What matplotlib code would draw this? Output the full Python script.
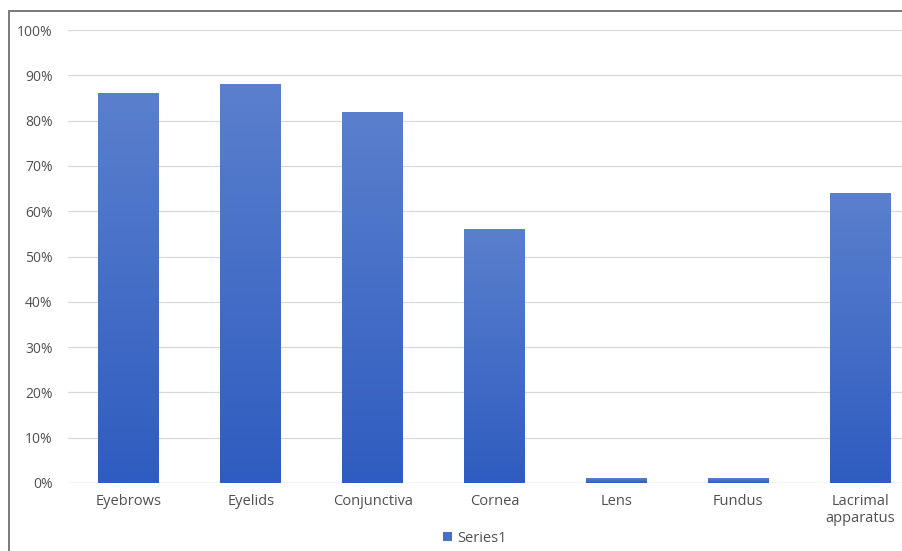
import matplotlib
matplotlib.use("Agg")
import matplotlib.pyplot as plt
import numpy as np
from matplotlib.patches import Rectangle
from matplotlib.colors import LinearSegmentedColormap
from matplotlib.ticker import PercentFormatter

categories = ["Eyebrows", "Eyelids", "Conjunctiva", "Cornea", "Lens", "Fundus", "Lacrimal\napparatus"]
values = [86, 88, 82, 56, 1, 1, 64]
yticks = [0, 10, 20, 30, 40, 50, 60, 70, 80, 90, 100]
series_name = "Series1"

W, H = 902, 551
fig = plt.figure(figsize=(W / 100, H / 100), dpi=100)
plt.rcParams["font.family"] = ["Open Sans", "DejaVu Sans"]

text_color = "#505050"

# plot area (extends slightly past the right edge of the canvas)
left, right = 68 / W, 921 / W
bottom, top = (H - 483) / H, (H - 30) / H
ax = fig.add_axes([left, bottom, right - left, top - bottom])

x = np.arange(len(categories))
bars = ax.bar(x, values, width=0.5, color="#4470c8", zorder=2, label=series_name)

# vertical gradient fill for each bar
cmap = LinearSegmentedColormap.from_list("barfill", ["#2f5cc0", "#5a80cd"])
grad = np.linspace(0, 1, 256).reshape(-1, 1)
for b in bars:
    x0, w, h = b.get_x(), b.get_width(), b.get_height()
    im = ax.imshow(grad, cmap=cmap, origin="lower", aspect="auto",
                   extent=(x0, x0 + w, 0, max(h, 0.001)), zorder=2.5)
    im.set_clip_path(b)
    b.set_facecolor("none")
    b.set_edgecolor("none")

ax.set_xlim(-0.5, len(categories) - 0.5)
ax.set_ylim(0, 100)
ax.set_yticks(yticks)
ax.yaxis.set_major_formatter(PercentFormatter(decimals=0))
ax.set_xticks(x)
ax.set_xticklabels(categories, fontsize=10.5)

ax.grid(axis="y", color="#d9d9d9", linewidth=0.9, zorder=0)
for s in ax.spines.values():
    s.set_visible(False)
ax.axhline(0, color="#d9d9d9", linewidth=0.9, zorder=1)
ax.tick_params(axis="both", length=0, colors=text_color)
ax.tick_params(axis="y", pad=11)
ax.tick_params(axis="x", pad=8)
for lbl in ax.get_yticklabels():
    lbl.set_fontsize(10)

# legend
handle = Rectangle((0, 0), 1, 1, facecolor="#4470c8")
fig.legend([handle], [series_name], loc="center", bbox_to_anchor=(475 / W, 1 - 538 / H),
           frameon=False, fontsize=10.5, labelcolor=text_color, handlelength=0.6,
           handleheight=0.6, handletextpad=0.4)

# chart frame
fig.patches.append(Rectangle((9 / W, -0.05), 1.0, 1 - 11 / H + 0.05,
                             transform=fig.transFigure, facecolor="none",
                             edgecolor="#7a7a7a", linewidth=1.4))

fig.savefig("out.png", dpi=100)
